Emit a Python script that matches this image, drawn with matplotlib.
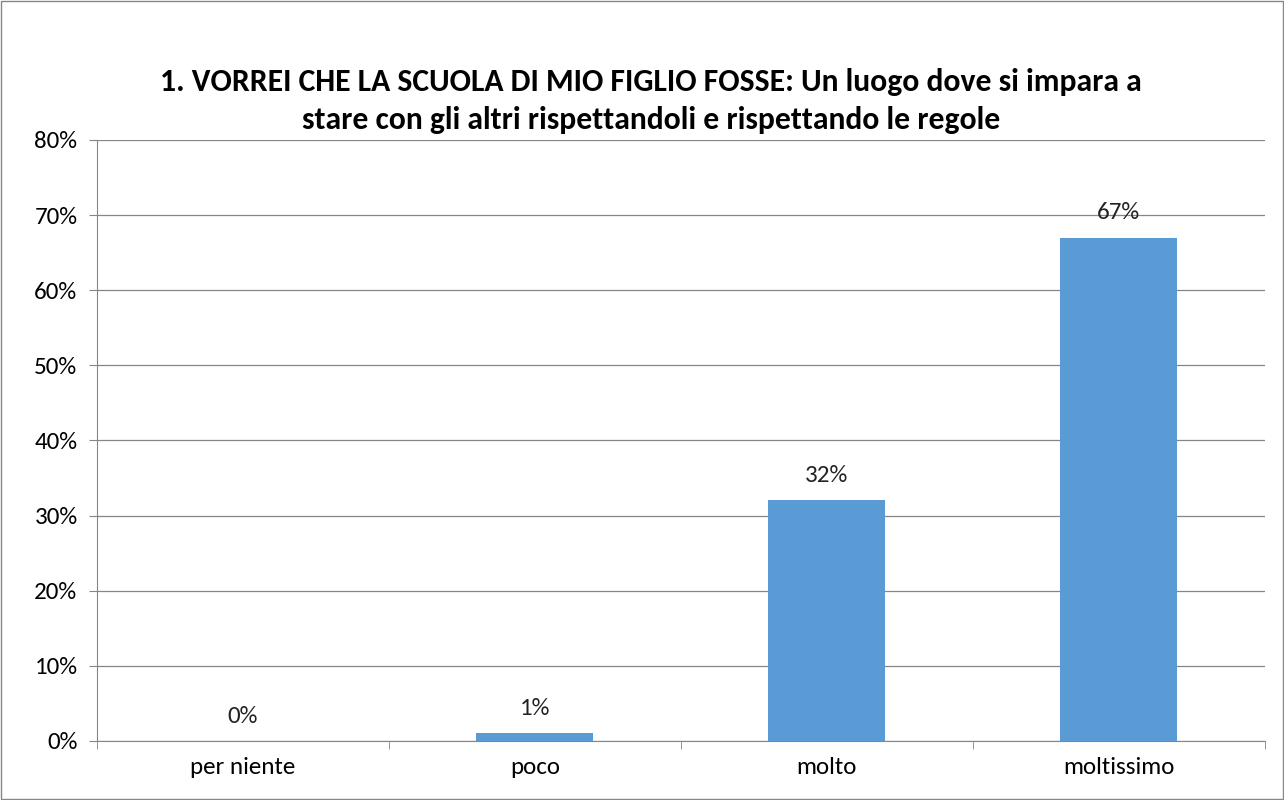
import matplotlib.pyplot as plt
import numpy as np
from matplotlib.patches import Rectangle

categories = ['per niente', 'poco', 'molto', 'moltissimo']
values = [0, 1, 32, 67]
labels = ['0%', '1%', '32%', '67%']
title = ("1. VORREI CHE LA SCUOLA DI MIO FIGLIO FOSSE: Un luogo dove si impara a\n"
         "stare con gli altri rispettandoli e rispettando le regole")

plt.rcParams['font.family'] = ['Carlito', 'Liberation Sans', 'DejaVu Sans']

fig = plt.figure(figsize=(12.84, 8), dpi=100)
ax = fig.add_axes([0.0755, 0.074, 0.9095, 0.751])

x = np.arange(len(categories))
ax.bar(x, values, width=0.4, color='#5B9BD5', zorder=3)
for xi, v, lab in zip(x, values, labels):
    ax.text(xi, v + 1.9, lab, ha='center', va='bottom', fontsize=18, color='#222222')

ax.set_xlim(-0.5, 3.5)
ax.set_ylim(0, 80)
ax.set_yticks(range(0, 81, 10))
ax.set_yticklabels([f'{t}%' for t in range(0, 81, 10)], fontsize=18)
ax.set_xticks(x)
ax.set_xticklabels(categories, fontsize=18)
ax.set_xticks(np.arange(-0.5, 4, 1), minor=True)
ax.tick_params(axis='x', which='major', length=0, pad=12)
ax.tick_params(axis='x', which='minor', length=6, color='#868686')
ax.tick_params(axis='y', length=6, color='#868686', pad=8)
ax.grid(axis='y', color='#868686', linewidth=0.9, zorder=0)
for s in ['top', 'right']:
    ax.spines[s].set_visible(False)
for s in ['left', 'bottom']:
    ax.spines[s].set_color('#868686')

fig.text(0.507, 0.874, title, ha='center', va='center', fontsize=22.8,
         fontweight='bold', linespacing=1.45)

fig.patches.append(Rectangle((0.001, 0.001), 0.998, 0.998, transform=fig.transFigure,
                             fill=False, edgecolor='#868686', linewidth=1))

fig.savefig('out.png', dpi=100)
